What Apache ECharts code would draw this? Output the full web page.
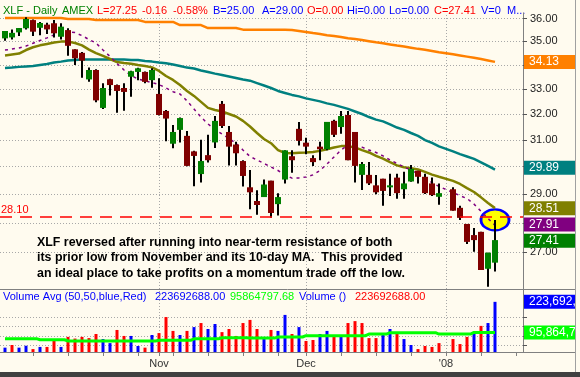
<!DOCTYPE html>
<html>
<head>
<meta charset="utf-8">
<script src="https://cdn.jsdelivr.net/npm/echarts@6/dist/echarts.min.js"></script>
<style>
  html, body { margin: 0; padding: 0; background: #404040; }
  #chart { width: 580px; height: 377px; }
</style>
</head>
<body>
<div id="chart"></div>
<script>
const GREEN = "#008000"
const MAROON = "#800000"
const RED = "#ff0000"
const BLUE = "#0000ff"
const LIME = "#00ff00"
const ORANGE = "#ff8000"
const TEAL = "#008080"
const OLIVE = "#808000"
const PURPLE = "#800080"
const PAPER = "#fffbef"
const FONT = "'Liberation Sans', Arial, sans-serif"

// daily XLF bars, one slot per trading day (slot 63 is empty)
const OPEN = [35.13, 35.17, 35.39, 35.57, 35.93, 35.59, 35.73, 35.79, 35.20, 35.49, 34.66, 34.51, 33.40, 33.79, 32.25, 33.41, 33.17, 33.05, 33.51, 33.71, 33.71, 33.37, 32.81, 32.13, 30.86, 31.39, 31.16, 30.57, 29.73, 30.43, 30.91, 32.41, 31.31, 30.83, 30.21, 29.25, 28.76, 28.90, 29.49, 28.65, 29.53, 30.39, 31.43, 30.90, 30.32, 30.75, 30.65, 31.74, 31.50, 31.97, 31.31, 29.70, 29.70, 29.32, 29.56, 29.25, 29.60, 29.18, 29.46, 29.85, 29.63, 29.39, 28.91, null, 29.18, 28.52, 27.96, 27.58, 27.69, 26.46, 26.66]
const HIGH = [35.45, 35.52, 35.58, 36.05, 35.95, 35.85, 35.81, 35.93, 35.79, 35.57, 34.66, 34.55, 33.89, 33.82, 33.24, 33.43, 33.19, 33.24, 33.76, 33.88, 33.73, 33.86, 33.45, 32.17, 31.58, 31.87, 31.35, 30.59, 31.01, 31.20, 31.93, 32.53, 31.54, 30.94, 30.24, 29.88, 29.14, 29.53, 29.49, 29.04, 30.61, 30.61, 31.70, 31.09, 30.43, 30.94, 31.70, 31.78, 32.13, 32.13, 31.31, 30.17, 30.17, 29.70, 29.56, 29.74, 29.74, 29.81, 30.06, 29.85, 29.74, 29.60, 29.39, null, 29.25, 28.59, 27.96, 27.82, 27.69, 26.99, 28.10]
const LOW = [35.03, 35.08, 35.23, 35.52, 35.23, 35.27, 35.32, 35.17, 35.08, 34.39, 34.00, 33.47, 33.30, 32.48, 32.21, 32.75, 32.06, 32.14, 32.70, 33.37, 33.24, 33.06, 31.95, 30.95, 30.69, 30.91, 30.02, 29.29, 29.42, 30.16, 30.70, 31.46, 30.04, 30.04, 29.28, 28.47, 28.28, 28.90, 28.17, 28.25, 29.39, 29.78, 30.79, 30.46, 30.03, 30.24, 30.61, 31.12, 31.24, 30.24, 29.42, 29.15, 29.33, 29.00, 28.59, 28.94, 28.84, 28.84, 29.45, 29.39, 29.01, 28.94, 28.63, null, 28.42, 28.10, 27.28, 27.02, 26.42, 25.88, 26.37]
const CLOSE = [35.45, 35.37, 35.58, 35.98, 35.42, 35.80, 35.52, 35.35, 35.64, 34.81, 34.28, 34.18, 33.79, 32.55, 33.05, 33.17, 32.93, 32.89, 33.74, 33.86, 33.30, 33.79, 31.97, 31.83, 31.31, 31.85, 30.03, 30.40, 30.21, 30.24, 31.74, 31.54, 30.75, 30.50, 29.66, 29.07, 28.62, 29.35, 28.34, 28.90, 30.61, 30.24, 30.97, 30.75, 30.17, 30.65, 31.70, 31.20, 31.93, 30.24, 30.03, 30.10, 29.39, 29.07, 29.12, 29.32, 29.04, 29.39, 29.92, 29.63, 29.04, 28.97, 29.04, null, 28.42, 28.17, 27.35, 27.41, 26.42, 26.99, 27.41]

// moving averages
const MA10 = [34.63, 34.67, 34.72, 34.80, 34.92, 35.04, 35.15, 35.28, 35.36, 35.42, 35.38, 35.25, 35.08, 34.93, 34.63, 34.36, 34.06, 33.79, 33.56, 33.42, 33.34, 33.27, 33.19, 33.05, 32.90, 32.81, 32.53, 32.21, 31.89, 31.62, 31.41, 31.23, 31.06, 30.87, 30.62, 30.38, 30.25, 30.12, 29.99, 29.86, 29.70, 29.58, 29.59, 29.62, 29.70, 29.86, 30.10, 30.36, 30.62, 30.81, 30.79, 30.73, 30.62, 30.53, 30.40, 30.25, 30.12, 29.99, 29.88, 29.72, 29.57, 29.42, 29.28, null, 29.06, 28.95, 28.85, 28.65, 28.40, 28.15, 27.91]
const MA20 = [34.40, 34.44, 34.48, 34.63, 34.75, 34.83, 34.89, 34.95, 34.99, 34.99, 34.93, 34.83, 34.65, 34.50, 34.38, 34.25, 34.12, 34.08, 34.05, 34.00, 33.96, 33.90, 33.75, 33.54, 33.38, 33.17, 32.93, 32.73, 32.49, 32.25, 32.17, 32.11, 32.01, 31.91, 31.74, 31.52, 31.27, 31.04, 30.88, 30.62, 30.51, 30.50, 30.52, 30.53, 30.55, 30.59, 30.65, 30.72, 30.77, 30.77, 30.72, 30.62, 30.53, 30.40, 30.30, 30.17, 30.05, 29.98, 29.94, 29.90, 29.81, 29.71, 29.63, null, 29.48, 29.37, 29.22, 29.08, 28.89, 28.69, 28.51]
const MA50 = [33.87, 33.89, 33.92, 33.94, 33.96, 34.00, 34.04, 34.10, 34.14, 34.19, 34.21, 34.23, 34.23, 34.23, 34.23, 34.23, 34.23, 34.23, 34.21, 34.21, 34.17, 34.14, 34.10, 34.07, 34.02, 33.96, 33.89, 33.85, 33.77, 33.71, 33.64, 33.58, 33.52, 33.46, 33.40, 33.35, 33.25, 33.15, 33.05, 32.93, 32.85, 32.77, 32.71, 32.63, 32.57, 32.51, 32.43, 32.37, 32.29, 32.21, 32.11, 32.01, 31.89, 31.79, 31.72, 31.60, 31.48, 31.39, 31.27, 31.16, 31.00, 30.89, 30.76, null, 30.57, 30.47, 30.38, 30.29, 30.16, 30.03, 29.89]
const MA200 = [36.02, 36.02, 36.02, 36.02, 36.02, 36.02, 36.02, 36.02, 36.02, 35.98, 35.98, 35.98, 35.98, 35.93, 35.93, 35.93, 35.93, 35.93, 35.93, 35.93, 35.85, 35.85, 35.85, 35.85, 35.85, 35.71, 35.71, 35.71, 35.71, 35.58, 35.58, 35.58, 35.58, 35.58, 35.51, 35.51, 35.51, 35.51, 35.51, 35.51, 35.51, 35.49, 35.45, 35.41, 35.36, 35.32, 35.27, 35.23, 35.19, 35.14, 35.10, 35.06, 35.01, 34.96, 34.92, 34.87, 34.82, 34.78, 34.73, 34.68, 34.64, 34.59, 34.54, null, 34.45, 34.40, 34.35, 34.30, 34.25, 34.19, 34.13]

// volume in millions of shares, and whether it was an up day (blue) or down day (red)
const VOLUME = [32, 43, 32, 40, 26, 35, 35, 64, 35, 77, 70, 77, 72, 89, 68, 51, 106, 81, 81, 39, 32, 85, 93, 160, 102, 85, 102, 118, 135, 110, 131, 97, 110, 81, 135, 148, 110, 74, 106, 102, 169, 89, 118, 60, 64, 89, 102, 81, 81, 135, 143, 135, 72, 72, 85, 110, 97, 68, 43, 26, 39, 35, 51, null, 68, 47, 77, 93, 123, 135, 223.692688]
const VOLUME_UP = [1, 0, 1, 1, 0, 1, 0, 0, 1, 0, 0, 0, 0, 0, 1, 1, 0, 0, 1, 1, 0, 1, 0, 0, 0, 1, 0, 1, 0, 1, 1, 0, 0, 0, 0, 0, 0, 1, 0, 1, 1, 0, 1, 0, 0, 1, 1, 0, 1, 0, 0, 0, 0, 0, 1, 1, 0, 1, 1, 0, 0, 0, 0, null, 0, 0, 0, 1, 0, 1, 1]
const VOLUME_AVG = [69.5, 69.5, 69.5, 69.5, 69.5, 65, 65, 65, 65, 60, 60, 60, 60, 60, 60, 60, 60, 60, 60, 60, 60, 60, 62.8, 62.8, 62.8, 62.8, 62.8, 69, 69, 69, 69, 73.6, 73.6, 73.6, 73.6, 72, 72, 72, 72, 76.6, 76.6, 76.6, 76.6, 82, 82, 82, 82, 82, 82, 82, 82, 82, 89, 89, 89, 94.6, 94.6, 94.6, 94.6, 94.6, 94.6, 94.6, 89, null, 89, 89, 89, 95.86479768, 95.86479768, 95.86479768, 95.86479768]

const PRICE_TICKS = [27, 28, 29, 30, 31, 32, 33, 34, 35, 36]
const PRICE_RANGE = [25.81, 36.244]
const VOLUME_TICKS = [40, 80, 120, 160]
const VOLUME_RANGE = [13.8, 277.4]
const WEEK_TICKS = [4, 9, 14, 19, 22, 24, 29, 34, 39, 43, 48, 53, 58, 63, 68, 73]
const MONTH_SLOTS = [22, 43, 63]
const MONTH_NAMES = ["Nov", "Dec", "'08"]
const RESISTANCE = 28.10

const HEADER = [
  ["XLF - Daily", 3, GREEN], ["AMEX", 62, GREEN], ["L=27.25", 97, RED], ["-0.16", 142, RED],
  ["-0.58%", 173, RED], ["B=25.00", 213, BLUE], ["A=29.00", 262, BLUE], ["O=0.00", 307, RED],
  ["Hi=0.00", 347, BLUE], ["Lo=0.00", 389, BLUE], ["C=27.41", 434, RED], ["V=0", 481, BLUE], ["M...", 507, BLUE]
]
const NOTE = [
  "XLF reversed after running into near-term resistance of both",
  "its prior low from November and its 10-day MA.  This provided",
  "an ideal place to take profits on a momentum trade off the low."
]

const SLOT_RANGE = [-5 / 7, 74]
const last = (values) => values[values.length - 1]
const ln = (value) => Math.log(value)
const money = (value) => value.toFixed(2)
const shares = (millions) => Math.round(millions * 1e6).toLocaleString("en-US")
const sharesRaw = (millions) => (millions * 1e6).toFixed(2)

function seriesPoints(values, transform) {
  return values.map((value, slot) => value == null ? null : [slot, transform(value)]).filter(Boolean)
}

function candleRows() {
  return OPEN.map((open, slot) => open == null ? null : [slot, ln(open), ln(CLOSE[slot]), ln(LOW[slot]), ln(HIGH[slot])]).filter(Boolean)
}

function renderCandle(params, api) {
  const slot = api.value(0)
  const openPt = api.coord([slot, api.value(1)])
  const closePt = api.coord([slot, api.value(2)])
  const lowPt = api.coord([slot, api.value(3)])
  const highPt = api.coord([slot, api.value(4)])
  const x = Math.round(openPt[0])
  const top = Math.min(openPt[1], closePt[1])
  const height = Math.max(Math.abs(openPt[1] - closePt[1]), 2)
  const rising = api.value(2) >= api.value(1)

  return {
    type: "group",
    children: [
      { type: "line", shape: { x1: x, y1: highPt[1], x2: x, y2: lowPt[1] }, style: { stroke: "#000", lineWidth: 2 } },
      { type: "rect", shape: { x: x - 3, y: top, width: 6, height }, style: { fill: rising ? GREEN : MAROON } }
    ]
  }
}

// value tag in the right margin, level with the series' last value (cut off by the frame)
function tag(value, color, text) {
  return {
    yAxis: value,
    lineStyle: { color: "transparent", width: 0 },
    label: {
      show: true, position: "end", distance: 1, formatter: text,
      color: "#fff", backgroundColor: color, fontFamily: FONT, fontSize: 12,
      width: 62, lineHeight: 13, padding: [1, 0, 0, 5], overflow: "none"
    }
  }
}

function maLine(name, values, color, extra) {
  return Object.assign({
    name, type: "line", xAxisIndex: 0, yAxisIndex: 0, data: seriesPoints(values, ln),
    symbol: "none", silent: true, z: 3,
    lineStyle: { color, width: 2.5 },
    markLine: { symbol: "none", silent: true, animation: false, data: [tag(ln(last(values)), color, money(last(values)))] }
  }, extra || {})
}

function gridTicks(values, length) {
  return {
    show: true, inside: true, length, customValues: values,
    lineStyle: { color: "#a8a8a8", type: [1, 2], width: 1 }
  }
}

function buildOption() {
  const lnTicks = PRICE_TICKS.map(ln)
  const lnRange = PRICE_RANGE.map(ln)
  const xBase = { type: "value", min: SLOT_RANGE[0], max: SLOT_RANGE[1], axisLine: { show: false, onZero: false }, axisLabel: { show: false }, splitLine: { show: false } }
  const yBase = { type: "value", position: "right", axisLine: { show: false, onZero: false }, axisLabel: { show: false }, splitLine: { show: false } }

  const headerItems = HEADER.map(([text, x, color]) => ({
    type: "text", x, y: 11, silent: true,
    style: { text, fill: color, font: `11px ${FONT}`, verticalAlign: "middle" }
  }))

  const volumeHeader = [
    ["Volume Avg (50,50,blue,Red)", 3, BLUE],
    [sharesRaw(last(VOLUME)), 155, BLUE],
    [sharesRaw(last(VOLUME_AVG)), 230, LIME],
    ["Volume ()", 299, BLUE],
    [sharesRaw(last(VOLUME)), 355, RED]
  ].map(([text, x, color]) => ({
    type: "text", x, y: 297, silent: true,
    style: { text, fill: color, font: `11px ${FONT}`, verticalAlign: "middle" }
  }))

  return {
    animation: false,
    backgroundColor: PAPER,
    grid: [
      { left: 0, top: 13, width: 523, height: 276 },
      { left: 0, top: 289, width: 523, height: 63 }
    ],
    xAxis: [
      Object.assign({}, xBase, { gridIndex: 0, axisTick: gridTicks(MONTH_SLOTS, 276) }),
      Object.assign({}, xBase, {
        gridIndex: 1, position: "bottom",
        axisTick: { show: true, length: 4, customValues: WEEK_TICKS, lineStyle: { color: "#808080" } },
        axisLabel: {
          show: true, customValues: MONTH_SLOTS, margin: 6, color: "#333", fontFamily: FONT, fontSize: 11,
          formatter: (value) => MONTH_NAMES[MONTH_SLOTS.indexOf(Math.round(value))] || ""
        }
      }),
      Object.assign({}, xBase, { gridIndex: 1, position: "bottom", axisTick: gridTicks(MONTH_SLOTS, 63) })
    ],
    yAxis: [
      Object.assign({}, yBase, {
        gridIndex: 0, min: lnRange[0], max: lnRange[1],
        axisLine: { show: true, onZero: false, lineStyle: { color: "#808080" } },
        axisTick: { show: true, length: 4, customValues: lnTicks, lineStyle: { color: "#555" } },
        axisLabel: { show: true, customValues: lnTicks, margin: 7, color: "#222", fontFamily: FONT, fontSize: 11, formatter: (value) => money(Math.exp(value)) }
      }),
      Object.assign({}, yBase, { gridIndex: 0, min: lnRange[0], max: lnRange[1], axisTick: gridTicks(lnTicks, 523) }),
      Object.assign({}, yBase, {
        gridIndex: 1, min: VOLUME_RANGE[0], max: VOLUME_RANGE[1],
        axisLine: { show: true, onZero: false, lineStyle: { color: "#808080" } },
        axisTick: { show: true, length: 4, customValues: VOLUME_TICKS, lineStyle: { color: "#555" } }
      }),
      Object.assign({}, yBase, { gridIndex: 1, min: VOLUME_RANGE[0], max: VOLUME_RANGE[1], axisTick: gridTicks(VOLUME_TICKS, 523) })
    ],
    series: [
      {
        name: "Resistance touch", type: "scatter", xAxisIndex: 0, yAxisIndex: 0, silent: true, z: 1,
        data: [[OPEN.length - 1, ln(RESISTANCE)]],
        symbol: "circle", symbolSize: [28, 21],
        itemStyle: { color: "#ffff00", borderColor: BLUE, borderWidth: 2.5, opacity: 1 }
      },
      maLine("MA 200", MA200, ORANGE),
      maLine("MA 50", MA50, TEAL),
      maLine("MA 20", MA20, OLIVE),
      maLine("MA 10", MA10, PURPLE, {
        lineStyle: { color: PURPLE, width: 1.5, type: [3, 4] },
        markLine: {
          symbol: "none", silent: true, animation: false,
          data: [
            {
              yAxis: ln(RESISTANCE),
              lineStyle: { color: RED, width: 1.5, type: [12, 8] },
              label: { show: true, position: "insideStartTop", distance: 1, formatter: money(RESISTANCE), color: RED, fontFamily: FONT, fontSize: 11 }
            },
            tag(ln(last(MA10)), PURPLE, money(last(MA10))),
            tag(ln(last(CLOSE)), GREEN, money(last(CLOSE)))
          ]
        }
      }),
      {
        name: "XLF", type: "custom", xAxisIndex: 0, yAxisIndex: 0, z: 4, silent: true,
        renderItem: renderCandle, encode: { x: 0, y: [1, 2, 3, 4] },
        data: candleRows()
      },
      {
        name: "Volume", type: "bar", xAxisIndex: 1, yAxisIndex: 2, barWidth: 3, silent: true,
        data: seriesPoints(VOLUME, (v) => v),
        itemStyle: { color: (params) => VOLUME_UP[params.data[0]] ? BLUE : RED },
        markLine: { symbol: "none", silent: true, animation: false, data: [tag(last(VOLUME), BLUE, shares(last(VOLUME)))] }
      },
      {
        name: "Volume Avg", type: "line", xAxisIndex: 1, yAxisIndex: 2, step: "middle", symbol: "none", silent: true,
        data: seriesPoints(VOLUME_AVG, (v) => v),
        lineStyle: { color: LIME, width: 3 },
        markLine: { symbol: "none", silent: true, animation: false, data: [tag(last(VOLUME_AVG), LIME, shares(last(VOLUME_AVG)))] }
      }
    ],
    graphic: [
      { type: "line", silent: true, shape: { x1: 0, y1: 289.5, x2: 575, y2: 289.5 }, style: { stroke: "#808080", lineWidth: 1 } },
      { type: "line", silent: true, shape: { x1: 0, y1: 352.5, x2: 575, y2: 352.5 }, style: { stroke: "#808080", lineWidth: 1 } },
      ...headerItems,
      ...volumeHeader,
      {
        type: "text", x: 37, y: 234.5, silent: true, z: 10,
        style: { text: NOTE.join("\n"), fill: "#000", font: `bold 12.4px ${FONT}`, lineHeight: 15.5 }
      },
      // frame on the right and bottom, drawn over the tags so they look cut off
      { type: "rect", silent: true, z: 100, shape: { x: 575, y: 0, width: 5, height: 377 }, style: { fill: PAPER } },
      { type: "line", silent: true, z: 101, shape: { x1: 575.5, y1: 0, x2: 575.5, y2: 372 }, style: { stroke: "#a0a0a0", lineWidth: 1 } },
      { type: "rect", silent: true, z: 101, shape: { x: 0, y: 372, width: 580, height: 5 }, style: { fill: "#404040" } }
    ]
  }
}

const chart = echarts.init(document.getElementById("chart"), null, { renderer: "canvas" })
chart.setOption(buildOption())
</script>
</body>
</html>
